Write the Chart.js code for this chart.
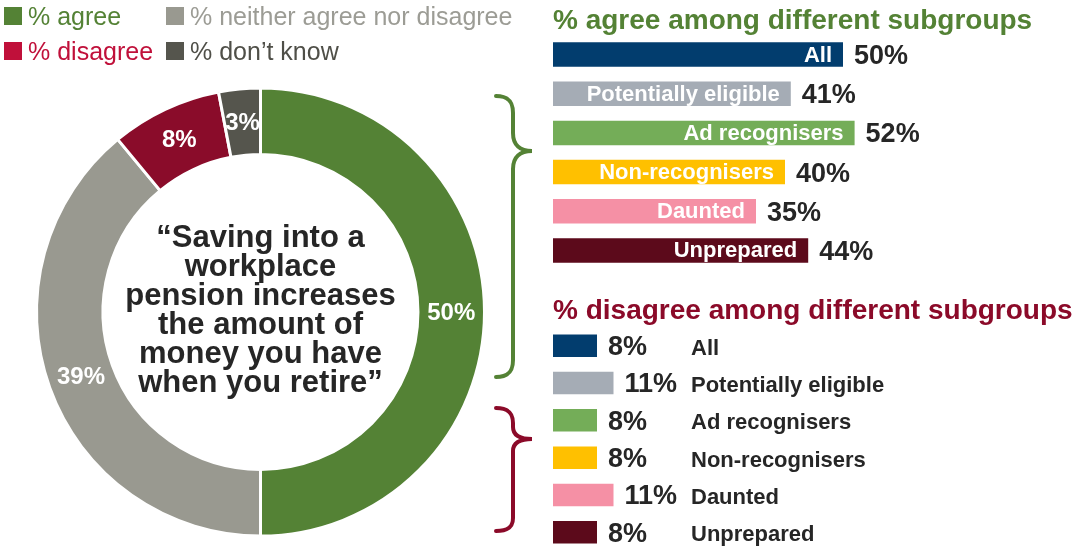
<!DOCTYPE html>
<html>
<head>
<meta charset="utf-8">
<title>Workplace pension attitudes</title>
<script src="https://cdn.jsdelivr.net/npm/chart.js@4.4.1/dist/chart.umd.min.js"></script>
<style>
  html, body {
    margin: 0;
    padding: 0;
    width: 1074px;
    height: 549px;
    overflow: hidden;
    background: #ffffff;
    font-family: 'Liberation Sans', Arial, sans-serif;
  }
  canvas, .legend-item, .statement, svg {
    position: absolute;
  }
  .legend-item {
    height: 30px;
    line-height: 30px;
    font-size: 25px;
    white-space: nowrap;
    display: flex;
    align-items: center;
  }
  .legend-item .swatch {
    width: 18px;
    height: 18px;
    margin-right: 6px;
  }
  .statement {
    left: 110px;
    width: 301px;
    top: 222px;
    text-align: center;
    font-size: 31px;
    line-height: 29px;
    font-weight: bold;
    color: #262626;
  }
</style>
</head>
<body>

<canvas id="response-chart" width="521" height="464" style="left:0;top:80px"></canvas>
<canvas id="agree-chart" width="522" height="263" style="left:553px;top:7px"></canvas>
<canvas id="disagree-chart" width="522" height="254" style="left:553px;top:297px"></canvas>

<div class="statement">“Saving into a<br>workplace<br>pension increases<br>the amount of<br>money you have<br>when you retire”</div>

<!-- braces linking the agree / disagree slices to their subgroup panels -->
<svg width="1074" height="549" style="left:0;top:0" fill="none" stroke-width="4" stroke-linecap="round">
  <path stroke="#548235" d="M496,96 C508,96 513,101 513,113 L513,133 C513,145 520,151 532,151 C520,151 513,157 513,169 L513,360 C513,372 508,377 496,377"/>
  <path stroke="#8b0a29" d="M496,408 C508,408 513,413 513,423 L513,427 C513,435 520,439 532,439 C520,439 513,443 513,451 L513,518 C513,527 508,531 496,531"/>
</svg>

<script>
// Overall responses to the statement
const responseLabels = ['% agree', '% neither agree nor disagree', '% disagree', '% don’t know'];
const responseValues = [50, 39, 8, 3];

// Subgroup breakdowns
const subgroups = ['All', 'Potentially eligible', 'Ad recognisers', 'Non-recognisers', 'Daunted', 'Unprepared'];
const agreeValues = [50, 41, 52, 40, 35, 44];
const disagreeValues = [8, 11, 8, 8, 11, 8];

// Colours
const sliceColors = ['#548235', '#999990', '#8a0c2a', '#55554d'];
const legendColors = ['#548235', '#9c9c95', '#c0103a', '#4f4f48'];
const subgroupColors = ['#023d6e', '#a5acb5', '#74ad58', '#ffc000', '#f590a5', '#5c0a1b'];

const FONT = "'Liberation Sans', Arial, sans-serif";
Chart.defaults.font.family = FONT;

// Legend (two columns, two rows)
const legendSpots = [[4, 1], [166, 1], [4, 36], [166, 36]];
responseLabels.forEach(function(label, i) {
    const item = document.createElement('div');
    item.className = 'legend-item';
    item.style.left = legendSpots[i][0] + 'px';
    item.style.top = legendSpots[i][1] + 'px';
    item.style.color = legendColors[i];
    const swatch = document.createElement('span');
    swatch.className = 'swatch';
    swatch.style.background = i === 2 ? legendColors[i] : sliceColors[i];
    item.appendChild(swatch);
    item.appendChild(document.createTextNode(label));
    document.body.appendChild(item);
});

/**
 * Writes each slice's percentage in the middle of its arc
 */
const sliceLabels = {
    id: 'sliceLabels',
    afterDatasetsDraw(chart) {
        const ctx = chart.ctx;
        ctx.save();
        ctx.font = 'bold 24px ' + FONT;
        ctx.fillStyle = '#ffffff';
        ctx.textAlign = 'center';
        ctx.textBaseline = 'middle';
        chart.getDatasetMeta(0).data.forEach(function(arc, i) {
            const pos = arc.tooltipPosition();
            ctx.fillText(responseValues[i] + '%', pos.x, pos.y + 1);
        });
        ctx.restore();
    }
};

new Chart(document.getElementById('response-chart'), {
    type: 'doughnut',
    data: {
        labels: responseLabels,
        datasets: [{
            data: responseValues,
            backgroundColor: sliceColors,
            borderColor: '#ffffff',
            borderWidth: 3,
            hoverOffset: 0
        }]
    },
    options: {
        responsive: false,
        animation: false,
        radius: 224,
        cutout: '70.3%',
        layout: { padding: 0 },
        plugins: {
            legend: { display: false },
            tooltip: { enabled: false }
        }
    },
    plugins: [sliceLabels]
});

/**
 * Agree panel: subgroup name inside the bar, value after it
 */
const agreeLabels = {
    id: 'agreeLabels',
    afterDatasetsDraw(chart) {
        const ctx = chart.ctx;
        ctx.save();
        ctx.textBaseline = 'middle';
        chart.getDatasetMeta(0).data.forEach(function(bar, i) {
            ctx.font = 'bold 22px ' + FONT;
            ctx.fillStyle = '#ffffff';
            ctx.textAlign = 'right';
            ctx.fillText(subgroups[i], bar.x - 11, bar.y + 1);

            ctx.font = 'bold 27px ' + FONT;
            ctx.fillStyle = '#262626';
            ctx.textAlign = 'left';
            ctx.fillText(agreeValues[i] + '%', bar.x + 11, bar.y + 2);
        });
        ctx.restore();
    }
};

/**
 * Disagree panel: value after the bar, subgroup name in a column to the right
 */
const disagreeLabels = {
    id: 'disagreeLabels',
    afterDatasetsDraw(chart) {
        const ctx = chart.ctx;
        const nameX = chart.chartArea.left + 138;
        ctx.save();
        ctx.textBaseline = 'middle';
        ctx.textAlign = 'left';
        chart.getDatasetMeta(0).data.forEach(function(bar, i) {
            ctx.font = 'bold 27px ' + FONT;
            ctx.fillStyle = '#262626';
            ctx.fillText(disagreeValues[i] + '%', bar.x + 11, bar.y + 2);

            ctx.font = 'bold 22px ' + FONT;
            ctx.fillText(subgroups[i], nameX, bar.y + 3);
        });
        ctx.restore();
    }
};

function subgroupBarOptions(title, titleColor, xMax, barPercentage, titleGap) {
    return {
        indexAxis: 'y',
        responsive: false,
        animation: false,
        layout: { padding: 0 },
        datasets: {
            bar: {
                categoryPercentage: 1,
                barPercentage: barPercentage
            }
        },
        scales: {
            x: { display: false, min: 0, max: xMax },
            y: { display: false }
        },
        plugins: {
            legend: { display: false },
            tooltip: { enabled: false },
            title: {
                display: true,
                text: title,
                align: 'start',
                color: titleColor,
                font: { size: 28, weight: 'bold', lineHeight: 1 },
                padding: { top: 0, bottom: titleGap }
            }
        }
    };
}

new Chart(document.getElementById('agree-chart'), {
    type: 'bar',
    data: {
        labels: subgroups,
        datasets: [{
            data: agreeValues,
            backgroundColor: subgroupColors,
            borderWidth: 0
        }]
    },
    options: subgroupBarOptions('% agree among different subgroups', '#548235', 90, 0.625, 0),
    plugins: [agreeLabels]
});

new Chart(document.getElementById('disagree-chart'), {
    type: 'bar',
    data: {
        labels: subgroups,
        datasets: [{
            data: disagreeValues,
            backgroundColor: subgroupColors,
            borderWidth: 0
        }]
    },
    options: subgroupBarOptions('% disagree among different subgroups', '#8b0a29', 94.9, 0.603, 2),
    plugins: [disagreeLabels]
});
</script>
</body>
</html>
